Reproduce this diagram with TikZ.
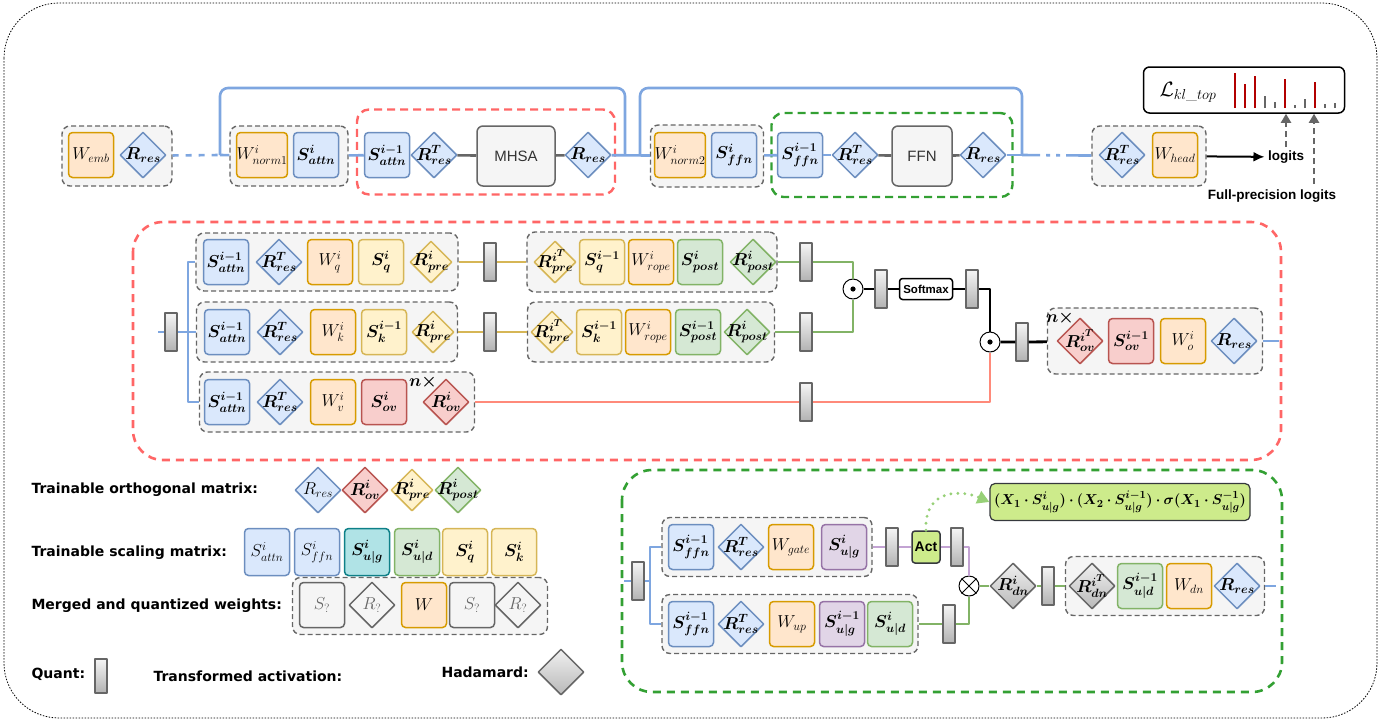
\documentclass[tikz,border=0pt]{standalone}
\usepackage{amsmath}
\usepackage{bm}
\usepackage{fontspec}
\setsansfont{Liberation Sans}
\newfontfamily\lgdfont{DejaVu Sans}
\usetikzlibrary{arrows.meta,shapes.geometric}

\definecolor{blueF}{HTML}{DAE8FC}
\definecolor{blueD}{HTML}{6C8EBF}
\definecolor{orgF}{HTML}{FFE6CC}
\definecolor{orgD}{HTML}{D79B00}
\definecolor{yelF}{HTML}{FFF2CC}
\definecolor{yelD}{HTML}{D6B656}
\definecolor{grnF}{HTML}{D5E8D4}
\definecolor{grnD}{HTML}{82B366}
\definecolor{redF}{HTML}{F8CECC}
\definecolor{redD}{HTML}{B85450}
\definecolor{purF}{HTML}{E1D5E7}
\definecolor{purD}{HTML}{9673A6}
\definecolor{tealF}{HTML}{B0E3E6}
\definecolor{tealD}{HTML}{0E8088}
\definecolor{gryF}{HTML}{F5F5F5}
\definecolor{gryD}{HTML}{666666}
\definecolor{lnBlue}{HTML}{7EA6E0}
\definecolor{lnRed}{HTML}{FF6666}
\definecolor{lnGreen}{HTML}{33A033}
\definecolor{lnSalmon}{HTML}{FF8A7A}
\definecolor{lnPurple}{HTML}{C3A3D3}
\definecolor{actF}{HTML}{CDEB8B}
\definecolor{actD}{HTML}{36393D}
\definecolor{dotGreen}{HTML}{97D077}
\definecolor{barRed}{HTML}{B20000}

\begin{document}
\begin{tikzpicture}[x=1pt, y=-1pt, line join=round,
  every node/.style={font=\fontsize{17.28}{19}\selectfont},
  mat/.style={rounded corners=4pt, minimum width=45pt, minimum height=45pt, inner sep=0pt, line width=1.5pt},
  mblue/.style={mat, fill=blueF, draw=blueD},
  morg/.style={mat, fill=orgF, draw=orgD},
  myel/.style={mat, fill=yelF, draw=yelD},
  mgrn/.style={mat, fill=grnF, draw=grnD},
  mred/.style={mat, fill=redF, draw=redD},
  mpur/.style={mat, fill=purF, draw=purD},
  mteal/.style={mat, fill=tealF, draw=tealD},
  mgry/.style={mat, fill=gryF, draw=gryD, text=gryD},
  orth/.style={diamond, aspect=1, minimum width=46pt, minimum height=46pt, inner sep=-9pt, line width=1.5pt},
  rblue/.style={orth, fill=blueF, draw=blueD},
  rred/.style={orth, fill=redF, draw=redD},
  ryel/.style={orth, fill=yelF, draw=yelD, minimum width=42pt, minimum height=42pt},
  rgrn/.style={orth, fill=grnF, draw=grnD},
  rgry/.style={orth, fill=gryF, draw=gryD, text=gryD},
  rhad/.style={orth, draw=gryD, top color=gray!12, bottom color=gray!55},
  grp/.style={draw=gryD, fill=gryF, dash pattern=on 5pt off 3pt, line width=1.4pt, rounded corners=8pt, inner sep=0pt},
  quant/.style={minimum width=12pt, minimum height=38pt, inner sep=0pt, draw=gryD, line width=1.2pt, top color=gray!8, bottom color=gray!60},
  oper/.style={rounded corners=6pt, fill=gryF, draw=gryD, line width=1.5pt, minimum height=60pt, inner sep=0pt, font=\sffamily\fontsize{15}{17}\selectfont, text=black!80},
  circ/.style={circle, draw, fill=white, minimum size=20pt, inner sep=0pt, line width=1pt},
  lbl/.style={font=\sffamily\bfseries\fontsize{13.5}{16}\selectfont},
  lgd/.style={anchor=west, font=\lgdfont\bfseries\fontsize{14}{16}\selectfont},
  cblue/.style={draw=lnBlue, line width=2.6pt},
  cgold/.style={draw=yelD, line width=2.6pt},
  cgrn/.style={draw=grnD, line width=2.6pt},
  cpur/.style={draw=lnPurple, line width=2.6pt},
  csal/.style={draw=lnSalmon, line width=2.6pt},
  cblk/.style={draw=black, line width=2.8pt},
  cgry/.style={draw=gryD, line width=2.6pt},
  darr/.style={draw=gryD, line width=2pt, dash pattern=on 6pt off 4pt, -{Triangle[length=9pt,width=10pt]}},
]
\useasboundingbox (0,0) rectangle (1381,721);
\draw[line width=0.8pt, dash pattern=on 1.5pt off 1.5pt, rounded corners=55pt] (4,3) rectangle (1377,718);

% top row: one decoder layer
\node[draw=lnRed, dash pattern=on 8pt off 5pt, line width=2.4pt, rounded corners=12pt, minimum width=258pt, minimum height=85pt] (attnBox) at (486,152) {};
\node[draw=lnGreen, dash pattern=on 8pt off 5pt, line width=2.4pt, rounded corners=12pt, minimum width=241pt, minimum height=84pt] (ffnBox) at (892,155) {};
\node[grp, minimum width=110pt, minimum height=60pt] (gEmb) at (117,156) {};
\node[grp, minimum width=118pt, minimum height=60pt] (gNorm1) at (289,156) {};
\node[grp, minimum width=113pt, minimum height=62pt] (gNorm2) at (707,156) {};
\node[grp, minimum width=114pt, minimum height=60pt] (gHead) at (1149,156) {};
\node[morg] (Wemb) at (91,155) {$W_{emb}$};
\node[rblue] (Rres0) at (143,155) {$\bm{R_{res}}$};
\node[morg] (Wn1) at (262,155) {$W^i_{norm1}$};
\node[mblue] (Sa1) at (316,155) {$\bm{S^i_{attn}}$};
\node[mblue] (Sa0) at (387,155) {$\bm{S^{i-1}_{attn}}$};
\node[rblue] (RT1) at (434,155) {$\bm{R^T_{res}}$};
\node[oper, minimum width=78pt] (MHSA) at (516,156) {MHSA};
\node[rblue] (Rres1) at (588,155) {$\bm{R_{res}}$};
\node[morg] (Wn2) at (680,155) {$W^i_{norm2}$};
\node[mblue] (Sf1) at (734,155) {$\bm{S^i_{ffn}}$};
\node[mblue] (Sf0) at (800,155) {$\bm{S^{i-1}_{ffn}}$};
\node[rblue] (RT2) at (855,155) {$\bm{R^T_{res}}$};
\node[oper, minimum width=60pt] (FFN) at (922,156) {FFN};
\node[rblue] (Rres2) at (983,155) {$\bm{R_{res}}$};
\node[rblue] (RT3) at (1122,155) {$\bm{R^T_{res}}$};
\node[morg] (Whead) at (1175,155) {$W_{head}$};
\node[lbl] (logits) at (1286,157) {logits};
\node[lbl] (fpl) at (1272,196) {Full-precision logits};
\node[draw, line width=1.5pt, rounded corners=6pt, minimum width=201pt, minimum height=46pt] (Loss) at (1244,90) {};
\node (Lkl) at (1188,92) {\fontsize{21}{24}\selectfont $\mathcal{L}_{kl\_top}$};
\foreach \bx/\btop/\bcol in {1235/73/barRed, 1245/84/barRed, 1255/76/barRed, 1265/96/gryD, 1275/102/gryD, 1285/79/barRed, 1295/105/gryD, 1305/99/gryD, 1315/82/barRed, 1325/104/gryD, 1335/103/gryD}
  \draw[\bcol, line width=1.8pt] (\bx,108) -- (\bx,\btop);
\coordinate (brA) at (220,155);
\coordinate (brB) at (625,155);
\coordinate (brC) at (640,155);
\coordinate (brD) at (1022,155);
\coordinate (fpTail) at (1314,184);
\draw[cblue, dash pattern=on 6pt off 7pt] (gEmb) -- (brA);
\draw[cblue] (brA) -- (gNorm1);
\draw[cblue, rounded corners=8pt] (brA) -- ++(0,-67) -| (brB);
\draw[cblue, rounded corners=8pt] (brC) -- ++(0,-67) -| (brD);
\draw[cblue] (gNorm1) -- (Sa0);
\draw[cblue] (Sa0) -- (RT1);
\draw[cgry] (RT1) -- (MHSA);
\draw[cgry] (MHSA) -- (Rres1);
\draw[cblue] (Rres1) -- (gNorm2);
\draw[cblue] (gNorm2) -- (Sf0);
\draw[cblue] (Sf0) -- (RT2);
\draw[cgry] (RT2) -- (FFN);
\draw[cgry] (FFN) -- (Rres2);
\draw[cblue] (Rres2) -- (brD);
\draw[cblue, dash pattern=on 18pt off 6pt on 4pt off 6pt on 4pt off 6pt on 30pt] (brD) -- (gHead);
\draw[line width=2pt, -{Latex[length=11pt,width=10pt]}] (gHead) -- (logits);
\draw[darr] (logits.north) -- (logits.north |- Loss.south);
\draw[darr] (fpTail) -- (fpTail |- Loss.south);

% attention block in detail
\draw[lnRed, dash pattern=on 8pt off 6pt, line width=2.6pt, rounded corners=30pt] (133,222) rectangle (1281,460);
\node[grp, minimum width=262pt, minimum height=58pt] (gQ) at (327,262) {};
\node[grp, minimum width=261pt, minimum height=60pt] (gK) at (327,332) {};
\node[grp, minimum width=275pt, minimum height=60pt] (gV) at (337,402) {};
\node[grp, minimum width=250pt, minimum height=60pt] (gQ2) at (652,262) {};
\node[grp, minimum width=247pt, minimum height=60pt] (gK2) at (651,332) {};
\node[grp, minimum width=215pt, minimum height=66pt] (gO) at (1155,341) {};
\node[mblue] (SaQ) at (226,262) {$\bm{S^{i-1}_{attn}}$};
\node[rblue] (RTQ) at (279,262) {$\bm{R^T_{res}}$};
\node[morg] (Wq) at (330,262) {$W^i_q$};
\node[myel] (Sq) at (381,262) {$\bm{S^i_q}$};
\node[ryel] (RpQ) at (431,262) {$\bm{R^i_{pre}}$};
\node[mblue] (SaK) at (227,332) {$\bm{S^{i-1}_{attn}}$};
\node[rblue] (RTK) at (280,332) {$\bm{R^T_{res}}$};
\node[morg] (Wk) at (333,332) {$W^i_k$};
\node[myel] (Sk) at (384,332) {$\bm{S^{i-1}_k}$};
\node[ryel] (RpK) at (433,332) {$\bm{R^i_{pre}}$};
\node[mblue] (SaV) at (227,402) {$\bm{S^{i-1}_{attn}}$};
\node[rblue] (RTV) at (280,402) {$\bm{R^T_{res}}$};
\node[morg] (Wv) at (333,402) {$W^i_v$};
\node[mred] (Sov) at (384,402) {$\bm{S^i_{ov}}$};
\node (nxV) at (423,382) {$\bm{n\times}$};
\node[rred] (Rov) at (446,402) {$\bm{R^i_{ov}}$};
\node[ryel] (RpQT) at (555,262) {$\bm{R^{i^T}_{pre}}$};
\node[myel] (Sq1) at (602,262) {$\bm{S^{i-1}_q}$};
\node[morg] (WrQ) at (651,262) {$W^i_{rope}$};
\node[mgrn] (SpQ) at (700,262) {$\bm{S^i_{post}}$};
\node[rgrn] (RoQ) at (753,262) {$\bm{R^i_{post}}$};
\node[ryel] (RpKT) at (552,332) {$\bm{R^{i^T}_{pre}}$};
\node[myel] (Sk1) at (599,332) {$\bm{S^{i-1}_k}$};
\node[morg] (WrK) at (648,332) {$W^i_{rope}$};
\node[mgrn] (SpK) at (698,332) {$\bm{S^{i-1}_{post}}$};
\node[rgrn] (RoK) at (747,332) {$\bm{R^i_{post}}$};
\node[rred] (RoT) at (1080,341) {$\bm{R^{i^T}_{ov}}$};
\node[mred] (Sov1) at (1131,341) {$\bm{S^{i-1}_{ov}}$};
\node[morg] (Wo) at (1183,341) {$W^i_o$};
\node[rblue] (RrO) at (1234,341) {$\bm{R_{res}}$};
\node (nxO) at (1060,318) {$\bm{n\times}$};
\node[quant] (q0) at (171,332) {};
\node[quant] (qQ) at (490,262) {};
\node[quant] (qK) at (490,332) {};
\node[quant] (qQ2) at (806,262) {};
\node[quant] (qK2) at (806,332) {};
\node[quant] (qV) at (806,402) {};
\node[quant] (qS1) at (881,289) {};
\node[quant] (qS2) at (972,289) {};
\node[quant] (qO) at (1022,342) {};
\node[circ] (mul1) at (853,289) {};
\node[circ] (mul2) at (990,342) {};
\fill (mul1) circle (2.6pt);
\fill (mul2) circle (2.6pt);
\node[draw, line width=1.5pt, rounded corners=3pt, fill=white, minimum width=53pt, minimum height=21pt, inner sep=0pt, font=\sffamily\bfseries\fontsize{11.5}{13}\selectfont] (Soft) at (926,289) {Softmax};
\coordinate (inM) at (158,332);
\coordinate (brM) at (188,332);
\coordinate (outM) at (1279,341);
\draw[cblue] (inM) -- (q0) -- (brM);
\draw[cblue] (brM) |- (gQ);
\draw[cblue] (brM) |- (gK);
\draw[cblue] (brM) |- (gV);
\draw[cgold] (gQ) -- (qQ) -- (gQ2);
\draw[cgold] (gK) -- (qK) -- (gK2);
\draw[cgrn] (gQ2) -- (qQ2) -| (mul1);
\draw[cgrn] (gK2) -- (qK2) -| (mul1);
\draw[cblk] (mul1) -- (qS1) -- (Soft) -- (qS2) -| (mul2);
\draw[cblk] (mul2) -- (qO) -- (gO);
\draw[csal] (gV) -- (qV) -| (mul2);
\draw[cblue] (gO) -- (outM);

% legend
\node[lgd] (tOrth) at (28,490) {Trainable orthogonal matrix:};
\node[rblue] (lgR1) at (318,490) {$R_{res}$};
\node[rred] (lgR2) at (365,490) {$\bm{R^i_{ov}}$};
\node[ryel] (lgR3) at (412,490) {$\bm{R^i_{pre}}$};
\node[rgrn] (lgR4) at (458,490) {$\bm{R^i_{post}}$};
\node[lgd] (tScale) at (28,553) {Trainable scaling matrix:};
\node[mblue, minimum height=47pt] (lgS1) at (267,552) {$S^i_{attn}$};
\node[mblue, minimum height=47pt] (lgS2) at (317,552) {$S^i_{ffn}$};
\node[mteal, minimum height=47pt] (lgS3) at (367,552) {$\bm{S^i_{u|g}}$};
\node[mgrn, minimum height=47pt] (lgS4) at (417,552) {$\bm{S^i_{u|d}}$};
\node[myel, minimum height=47pt] (lgS5) at (465,552) {$\bm{S^i_q}$};
\node[myel, minimum height=47pt] (lgS6) at (514,552) {$\bm{S^i_k}$};
\node[lgd] (tMerge) at (28,606) {Merged and quantized weights:};
\node[grp, minimum width=255pt, minimum height=57pt] (gLeg) at (420,606) {};
\node[mgry] (lgM1) at (322,605) {$S_?$};
\node[rgry] (lgM2) at (372,605) {$R_?$};
\node[morg] (lgM3) at (424,605) {$W$};
\node[mgry] (lgM4) at (472,605) {$S_?$};
\node[rgry] (lgM5) at (518,605) {$R_?$};
\node[lgd] (tQuant) at (28,674) {Quant:};
\node[quant, minimum height=34pt] (lgQ) at (101,676) {};
\node[lgd] (tAct) at (150,676) {Transformed activation:};
\node[lgd] (tHad) at (438,672) {Hadamard:};
\node[rhad] (lgH) at (561,672) {};

% ffn block in detail
\draw[lnGreen, dash pattern=on 8pt off 6pt, line width=2.6pt, rounded corners=30pt] (622,470) rectangle (1282,692);
\node[grp, minimum width=210pt, minimum height=59pt] (gG) at (767,547) {};
\node[grp, minimum width=256pt, minimum height=59pt] (gU) at (790,624) {};
\node[grp, minimum width=199pt, minimum height=59pt] (gD) at (1165,586) {};
\node[mblue] (SfG) at (691,547) {$\bm{S^{i-1}_{ffn}}$};
\node[rblue] (RTG) at (741,547) {$\bm{R^T_{res}}$};
\node[morg] (Wg) at (791,547) {$W_{gate}$};
\node[mpur] (SgG) at (844,547) {$\bm{S^i_{u|g}}$};
\node[mblue] (SfU) at (691,624) {$\bm{S^{i-1}_{ffn}}$};
\node[rblue] (RTU) at (741,624) {$\bm{R^T_{res}}$};
\node[morg] (Wu) at (792,624) {$W_{up}$};
\node[mpur] (SgU) at (842,624) {$\bm{S^{i-1}_{u|g}}$};
\node[mgrn] (SdU) at (890,624) {$\bm{S^i_{u|d}}$};
\node[rhad] (Rdn) at (1013,586) {$\bm{R^i_{dn}}$};
\node[rhad] (RdT) at (1092,586) {$\bm{R^{i^T}_{dn}}$};
\node[mgrn] (Sd1) at (1140,586) {$\bm{S^{i-1}_{u|d}}$};
\node[morg] (Wd) at (1189,586) {$W_{dn}$};
\node[rblue] (RrD) at (1237,586) {$\bm{R_{res}}$};
\node[quant] (q1) at (638,581) {};
\node[quant] (qG) at (892,547) {};
\node[quant] (qG2) at (957,547) {};
\node[quant] (qU) at (949,624) {};
\node[quant] (qD) at (1048,586) {};
\node[draw=actD, fill=actF, line width=1.5pt, rounded corners=3pt, minimum width=28pt, minimum height=32pt, inner sep=0pt, font=\sffamily\bfseries\fontsize{14}{16}\selectfont] (Act) at (926,547) {Act};
\node[circ] (mulF) at (969,586) {};
\draw[line width=1pt] (mulF.45) -- (mulF.225) (mulF.135) -- (mulF.315);
\node[draw=actD, fill=actF, line width=1.2pt, rounded corners=5pt, minimum width=260pt, minimum height=37pt, inner sep=0pt] (Fm) at (1120,502) {\fontsize{15}{17}\selectfont $\bm{(X_1\cdot S^i_{u|g})\cdot(X_2\cdot S^{i-1}_{u|g})\cdot\sigma(X_1\cdot S^{-1}_{u|g})}$};
\coordinate (inF) at (624,581);
\coordinate (brF) at (650,581);
\coordinate (outF) at (1276,586);
\draw[cblue] (inF) -- (q1) -- (brF);
\draw[cblue] (brF) |- (gG);
\draw[cblue] (brF) |- (gU);
\draw[cpur] (gG) -- (qG) -- (Act) -- (qG2) -| (mulF);
\draw[cgrn] (gU) -- (qU) -| (mulF);
\draw[cgrn] (mulF) -- (Rdn) -- (qD) -- (gD);
\draw[cblue] (gD) -- (outF);
\draw[dotGreen, line width=3.2pt, line cap=round, dash pattern=on 0pt off 7pt, -{Triangle[length=12pt,width=13pt]}] (Act.north) .. controls (924,488) and (962,490) .. (Fm.west);
\end{tikzpicture}
\end{document}
